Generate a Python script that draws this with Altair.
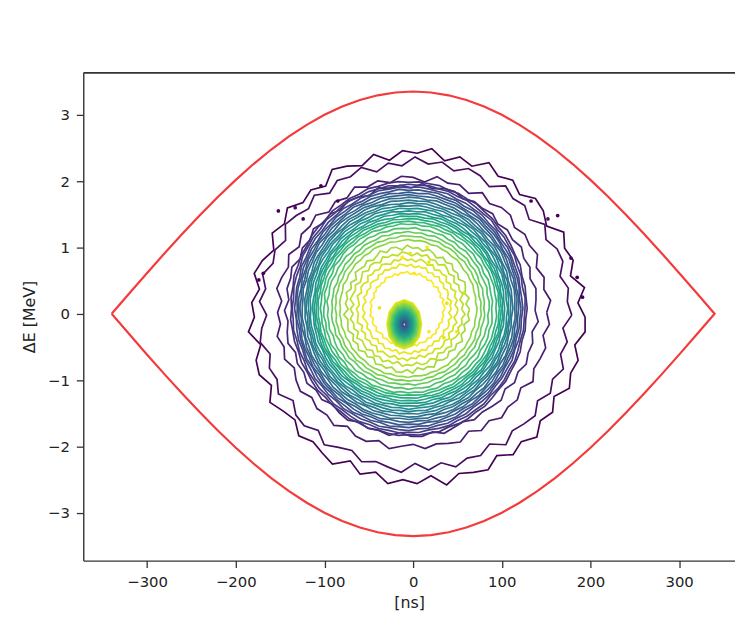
import altair as alt
import numpy as np
import pandas as pd

# ---------------- data ----------------
# separatrix (upper half), time in ns, energy in MeV
SEP_T = [-340, -320, -300, -280, -260, -240, -220, -200, -180, -160, -140, -120,
         -100, -80, -60, -40, -20, 0, 20, 40, 60, 80, 100, 120, 140, 160, 180,
         200, 220, 240, 260, 280, 300, 320, 340]
SEP_DE = [0.000, 0.309, 0.616, 0.917, 1.210, 1.493, 1.764, 2.019, 2.257, 2.476,
          2.673, 2.848, 2.999, 3.124, 3.222, 3.293, 3.336, 3.350, 3.336, 3.293,
          3.222, 3.124, 2.999, 2.848, 2.673, 2.476, 2.257, 2.019, 1.764, 1.493,
          1.210, 0.917, 0.616, 0.309, 0.000]

# outer contour rings (level index 0 = lowest .. 29 = highest)
RING_LEVEL = list(range(30))
RING_CX = [4.5, 2.2, 0.0, -2.2] + [-5.0] * 16 + [-5.6] * 5 + [-6.7] * 5
RING_CY = [-0.05, -0.02, 0.02, 0.05] + [0.08] * 16 + [0.08] * 5 + [0.07] * 5
RING_RX = [185, 173, 152, 141,
           133, 131, 128, 126, 124, 122, 120, 117, 115, 113, 111, 108, 106, 104, 102, 99,
           95, 91, 86, 82, 77,
           69, 63, 56, 49, 41]
RING_RY = [2.48, 2.31, 2.03, 1.88,
           1.91, 1.87, 1.83, 1.79, 1.75, 1.71, 1.67, 1.63, 1.59, 1.55, 1.51, 1.47,
           1.43, 1.39, 1.35, 1.31,
           1.27, 1.21, 1.15, 1.09, 1.03,
           0.93, 0.84, 0.75, 0.66, 0.55]
RING_WIGGLE = [0.04, 0.036, 0.03, 0.022] + [0.007] * 16 + [0.012] * 5 + [0.045] * 5

# hand-read ripple of the contours (relative radial deviation)
RIPPLE = [0.6, -0.4, 0.9, -0.8, 0.3, -0.2, 0.8, -0.9, 0.1, 0.5, -0.7, 0.4,
          -0.3, 0.9, -0.6, 0.2, -0.9, 0.7, -0.1, 0.4, -0.8, 0.6, -0.5, 0.3,
          0.9, -0.7, 0.2, -0.4, 0.8, -0.3, 0.5, -0.9, 0.1, 0.7, -0.6, 0.3,
          -0.2, 0.8, -0.8, 0.4, 0.6, -0.5, 0.9, -0.1, -0.7, 0.5, -0.3, 0.2,
          0.8, -0.9, 0.4, -0.6, 0.7, -0.2, 0.3, -0.8, 0.9, -0.4, 0.1, 0.6,
          -0.7, 0.5, -0.3, 0.8, -0.5, 0.2, -0.9, 0.6, -0.1, 0.4, -0.6, 0.7]

# central hole of the distribution
BLOB_CX = -10.0
BLOB_CY = -0.16
BLOB_LEVEL = list(range(28, 6, -1))
BLOB_RX = [19.5, 18.6, 17.7, 16.8, 15.9, 15.0, 14.1, 13.2, 12.3, 11.4, 10.5,
           9.6, 8.7, 7.8, 7.0, 6.2, 5.4, 4.6, 3.8, 3.0, 2.3, 1.6]
BLOB_RY = [0.37, 0.353, 0.336, 0.319, 0.302, 0.285, 0.268, 0.251, 0.234, 0.217,
           0.200, 0.183, 0.166, 0.149, 0.134, 0.119, 0.104, 0.089, 0.074, 0.059,
           0.045, 0.031]

# small contour islands
ISL_T = [-12.3, -3.4, 15.6, 17.9, 1.1, 17.9, 34.6, 49.2, 38.0, 57.0, -38.0,
         -104, -85, -152, -133, -124, 133, 152, 163, 178, 191, 185, -169, -174]
ISL_DE = [0.85, 0.91, 1.00, 0.78, 0.61, -0.27, -0.36, -0.27, 0.16, 0.31, 0.09,
          1.93, 1.70, 1.55, 1.60, 1.43, 1.70, 1.43, 1.48, 0.84, 0.25, 0.55, 0.61, 0.51]
ISL_LEVEL = [29, 28, 29, 28, 29, 29, 28, 29, 28, 27, 28,
             0, 0, 0, 1, 0, 0, 1, 0, 0, 0, 0, 0, 0]

X_TICKS = [-300, -200, -100, 0, 100, 200, 300]
Y_TICKS = [-3, -2, -1, 0, 1, 2, 3]
X_DOMAIN = [-372, 363]
Y_DOMAIN = [-3.72, 3.64]
NLEV = 29

# ---------------- tables ----------------
rows = []
n = len(RIPPLE)
ang = np.linspace(0, 2 * np.pi, n, endpoint=False)
rip = np.array(RIPPLE)
for i, (lev, cx, cy, rx, ry, w) in enumerate(zip(RING_LEVEL, RING_CX, RING_CY,
                                                  RING_RX, RING_RY, RING_WIGGLE)):
    j = np.roll(rip, i * 5)
    rr = 1 + w * j
    xs = cx + rx * rr * np.cos(ang)
    ys = cy + ry * rr * np.sin(ang)
    for p in range(n + 1):
        rows.append({"ring": f"o{i}", "level": lev / NLEV,
                     "t": xs[p % n], "dE": ys[p % n], "o": p})

m = 12
angb = np.linspace(0, 2 * np.pi, m, endpoint=False)
for i, (lev, rx, ry) in enumerate(zip(BLOB_LEVEL, BLOB_RX, BLOB_RY)):
    xs = BLOB_CX + rx * np.cos(angb)
    ys = BLOB_CY + ry * np.sin(angb)
    for p in range(m + 1):
        rows.append({"ring": f"b{i}", "level": lev / NLEV,
                     "t": xs[p % m], "dE": ys[p % m], "o": p})
rings = pd.DataFrame(rows)

sep_rows = []
for k, (t, e) in enumerate(zip(SEP_T, SEP_DE)):
    sep_rows.append({"t": t, "dE": e, "o": k})
for k, (t, e) in enumerate(zip(SEP_T[::-1], SEP_DE[::-1])):
    sep_rows.append({"t": t, "dE": -e, "o": len(SEP_T) + k})
sep = pd.DataFrame(sep_rows)

isl = pd.DataFrame({"t": ISL_T, "dE": ISL_DE,
                    "level": [v / NLEV for v in ISL_LEVEL]})

# ---------------- chart ----------------
xs_ = alt.Scale(domain=X_DOMAIN, nice=False, zero=False)
ys_ = alt.Scale(domain=Y_DOMAIN, nice=False, zero=False)
cscale = alt.Scale(scheme="viridis", domain=[0, 1])

Y_AXIS = alt.Axis(orient="left", values=Y_TICKS, title="ΔE [MeV]",
                  format="d", titlePadding=10)
X_BOTTOM = alt.Axis(orient="bottom", values=X_TICKS, title="[ns]",
                    format="d", titlePadding=5)
X_TOP = alt.Axis(orient="top", labels=False, ticks=False, domain=True, title=None)

contours = alt.Chart(rings).mark_line(strokeWidth=1.7, clip=True).encode(
    x=alt.X("t:Q", scale=xs_, axis=X_BOTTOM),
    y=alt.Y("dE:Q", scale=ys_, axis=Y_AXIS),
    color=alt.Color("level:Q", scale=cscale, legend=None),
    detail="ring:N",
    order="o:Q",
)

islands = alt.Chart(isl).mark_point(filled=True, size=14, opacity=1).encode(
    x=alt.X("t:Q", scale=xs_, axis=X_TOP),
    y=alt.Y("dE:Q", scale=ys_, axis=Y_AXIS),
    color=alt.Color("level:Q", scale=cscale, legend=None),
)

separatrix = alt.Chart(sep).mark_line(color="#f43a3a", strokeWidth=2.2, clip=True).encode(
    x=alt.X("t:Q", scale=xs_, axis=X_TOP),
    y=alt.Y("dE:Q", scale=ys_, axis=Y_AXIS),
    order="o:Q",
)

chart = alt.layer(contours, islands, separatrix).resolve_axis(
    x="independent"
).properties(
    width=658, height=493,
    autosize=alt.AutoSizeParams(type="none"),
    padding={"left": 76, "top": 62, "right": 0, "bottom": 50},
).configure_view(strokeWidth=0).configure_axis(
    grid=False,
    domainColor="#333", domainWidth=1.4,
    tickColor="#333", tickWidth=1.3, tickSize=7,
    labelFont="DejaVu Sans", labelFontSize=15, labelColor="#222", labelPadding=7,
    titleFont="DejaVu Sans", titleFontSize=16, titleFontWeight="normal", titleColor="#222",
)

chart.save("out.html", embed_options={"renderer": "svg", "actions": False})
